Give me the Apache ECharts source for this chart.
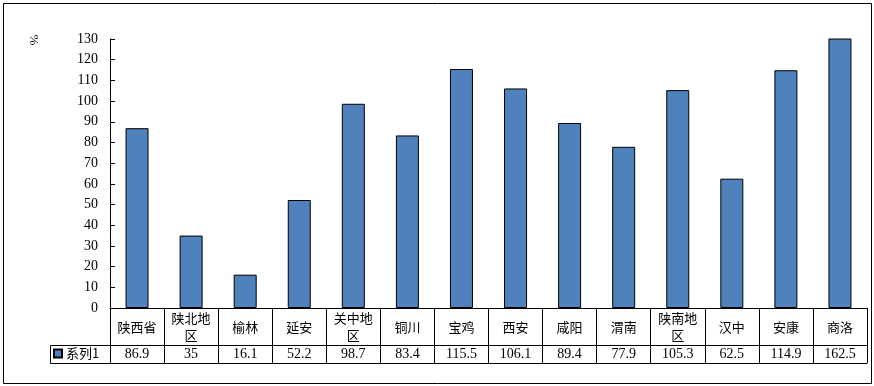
<!DOCTYPE html>
<html><head><meta charset="utf-8">
<script src="https://cdn.jsdelivr.net/npm/echarts@6/dist/echarts.min.js"></script>
<style>html,body{margin:0;padding:0;background:#fff}#c{width:874px;height:386px}</style>
</head><body><div id="c"></div>
<script>
var categories = ['陕西省','陕北地区','榆林','延安','关中地区','铜川','宝鸡','西安','咸阳','渭南','陕南地区','汉中','安康','商洛'];
var values = [86.9, 35, 16.1, 52.2, 98.7, 83.4, 115.5, 106.1, 89.4, 77.9, 105.3, 62.5, 114.9, 162.5];
var seriesName = '系列1';
var yTicks = {min: 0, max: 130, interval: 10};

var serif = '"Liberation Serif","Noto Sans CJK SC",serif';
var cjk = '"Noto Sans CJK SC","Liberation Serif",sans-serif';
function wrap(s){ return s.length > 3 ? s.slice(0,3) + '\n' + s.slice(3) : s; }

var chart = echarts.init(document.getElementById('c'), null, {renderer:'canvas'});
chart.setOption({
  animation: false,
  backgroundColor: '#fff',
  grid: {left: 110, right: 7, top: 39, bottom: 78, containLabel: false, outerBoundsMode: 'none'},
  legend: {
    left: 53, top: 347, itemWidth: 8, itemHeight: 8, padding: 0,
    icon: 'rect',
    textStyle: {fontFamily: cjk, fontSize: 13, color: '#000', padding: [0,0,0,-1]},
    data: [seriesName]
  },
  xAxis: [
    {
      type: 'category', data: categories, position: 'bottom', boundaryGap: true,
      axisLine: {show: true, lineStyle: {color: '#000', width: 1}},
      axisTick: {show: true, interval: 0, length: 55, inside: false, lineStyle: {color: '#000', width: 1}},
      axisLabel: {interval: 0, margin: 19, verticalAlign: 'middle', lineHeight: 17,
        fontFamily: cjk, fontSize: 13, color: '#000', formatter: function(v){ return wrap(v); }},
      splitLine: {show: false}
    },
    {
      type: 'category', data: categories, position: 'bottom', offset: 37, boundaryGap: true,
      axisLine: {show: true, lineStyle: {color: '#000', width: 1}},
      axisTick: {show: false},
      axisLabel: {interval: 0, margin: 9, verticalAlign: 'middle', fontFamily: serif, fontSize: 14, color: '#000',
        formatter: function(v, i){ return String(values[i]); }},
      splitLine: {show: false}
    },
    {
      type: 'category', data: categories, position: 'bottom', offset: 55, boundaryGap: true,
      axisLine: {show: true, lineStyle: {color: '#000', width: 1}},
      axisTick: {show: false}, axisLabel: {show: false}, splitLine: {show: false}
    }
  ],
  yAxis: {
    type: 'value', min: yTicks.min, max: yTicks.max, interval: yTicks.interval,
    axisLine: {show: true, lineStyle: {color: '#000', width: 1}},
    axisTick: {show: true, inside: true, length: 5, lineStyle: {color: '#000'}},
    axisLabel: {margin: 12, fontFamily: serif, fontSize: 14, color: '#000'},
    splitLine: {show: false}
  },
  series: [{
    name: seriesName, type: 'bar', xAxisIndex: 0, data: values, barWidth: 23, clip: true,
    itemStyle: {color: '#4f81bd', borderColor: '#000', borderWidth: 1}
  }],
  graphic: [
    {type: 'rect', shape: {x: 3.5, y: 3.5, width: 868, height: 380}, style: {fill: 'none', stroke: '#000', lineWidth: 1}, silent: true, z: -1},
    {type: 'rect', shape: {x: 50.5, y: 345.5, width: 60, height: 18}, style: {fill: 'none', stroke: '#000', lineWidth: 1}, silent: true},
    {type: 'text', x: 33, y: 40, rotation: -Math.PI/2, style: {text: '%', fontFamily: serif, fontSize: 13, fill: '#000', align: 'center', verticalAlign: 'middle'}}
  ]
});
</script></body></html>
